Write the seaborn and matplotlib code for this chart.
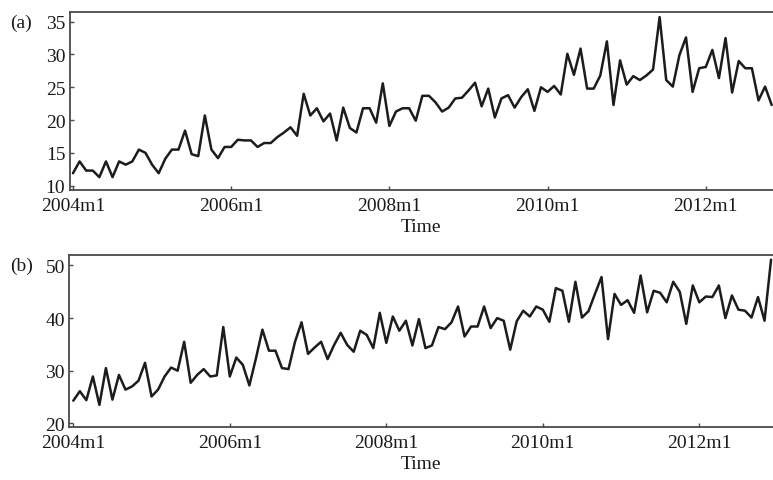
import numpy as np
import pandas as pd
import matplotlib
matplotlib.use("Agg")
import matplotlib.pyplot as plt
import seaborn as sns

# ---- data (monthly, starting 2004m1) ----
tick_months = [0, 24, 48, 72, 96]
tick_labels = ["2004m1", "2006m1", "2008m1", "2010m1", "2012m1"]
yticks_a = [10, 15, 20, 25, 30, 35]
yticks_b = [20, 30, 40, 50]

series_a = [
    11.9, 13.7, 12.3, 12.3, 11.3, 13.7, 11.3, 13.7, 13.2, 13.7, 15.5, 15.0, 13.2,
    11.9, 14.1, 15.5, 15.5, 18.4, 14.8, 14.5, 20.7, 15.5, 14.2, 15.9, 15.9, 17.0,
    16.9, 16.9, 15.9, 16.5, 16.5, 17.4, 18.1, 18.9, 17.6, 24.0, 20.7, 21.8, 19.8,
    21.0, 16.9, 21.9, 18.8, 18.1, 21.8, 21.8, 19.6, 25.6, 19.1, 21.3, 21.8, 21.8,
    19.9,
    23.7, 23.7, 22.7, 21.3, 21.9, 23.3, 23.4, 24.5, 25.7, 22.1, 24.8, 20.4, 23.3,
    23.8, 21.9, 23.5, 24.7, 21.4, 25.0, 24.3, 25.2, 23.9, 30.1, 26.9, 30.9, 24.8,
    24.8, 26.8,
    32.0, 22.3, 29.1, 25.4, 26.7, 26.1, 26.8, 27.7, 35.7, 26.1, 25.1, 29.9, 32.6,
    24.3, 27.9, 28.1, 30.7, 26.4, 32.5, 24.2, 29.0, 27.9, 27.9, 23.0, 25.1, 22.3,
]

series_b = [
    24.3, 26.1, 24.4, 28.9, 23.5, 30.5, 24.5, 29.2, 26.4, 27.0, 28.1, 31.5, 25.1,
    26.4, 28.9, 30.6, 30.0, 35.5, 27.7, 29.2, 30.3, 28.9, 29.1, 38.3, 28.9, 32.5,
    31.1, 27.2, 32.3, 37.8, 33.8, 33.8, 30.5, 30.3, 35.5, 39.2, 33.2, 34.4, 35.5,
    32.2, 34.9, 37.2, 34.9, 33.6, 37.6, 36.8, 34.3, 41.0, 35.3, 40.3, 37.6, 39.5,
    34.8, 39.8,
    34.3, 34.8, 38.3, 37.9, 39.2, 42.2, 36.5, 38.4, 38.4, 42.2, 38.1, 40.0, 39.5,
    34.0, 39.4, 41.4, 40.3, 42.2, 41.6, 39.3, 45.7, 45.2, 39.3, 46.9, 40.1, 41.3,
    44.6, 47.8,
    36.0, 44.6, 42.5, 43.4, 41.0, 48.1, 41.1, 45.2, 44.8, 43.0, 46.9, 45.0, 38.9,
    46.2, 43.0, 44.1, 44.0, 46.2, 40.0, 44.3, 41.6, 41.4, 40.1, 44.0, 39.5, 51.1,
]

df_a = pd.DataFrame({"month": np.arange(len(series_a)), "value": series_a})
df_b = pd.DataFrame({"month": np.arange(len(series_b)), "value": series_b})

sns.set_theme(style="ticks")
plt.rcParams["font.family"] = ["Liberation Serif", "DejaVu Serif"]
FS = 14
plt.rcParams["font.size"] = FS

W, H = 773, 481
fig = plt.figure(figsize=(W / 100, H / 100), dpi=100)
fig.patch.set_facecolor("white")

ax_a = fig.add_axes([69.5 / W, 1 - 191 / H, 1 - 69.5 / W, (191 - 13.3) / H])
ax_b = fig.add_axes([69 / W, 1 - 428.3 / H, 1 - 69 / W, (428.3 - 255.7) / H])

line_col = "#1c1c1c"
spine_col = "#4a4a4a"
text_col = "#1a1a1a"

panels = [
    (ax_a, df_a, yticks_a, (9.34, 36.43), (-0.53, 106.2)),
    (ax_b, df_b, yticks_b, (19.24, 52.05), (-0.66, 107.3)),
]

for ax, df, yt, ylim, xlim in panels:
    sns.lineplot(data=df, x="month", y="value", ax=ax, color=line_col,
                 linewidth=1.8)
    ax.set_xlim(*xlim)
    ax.set_ylim(*ylim)
    ax.set_xticks(tick_months)
    ax.set_xticklabels(tick_labels)
    ax.set_yticks(yt)
    ax.set_ylabel("")
    ax.set_xlabel("Time", fontsize=FS, labelpad=3, color=text_col)
    ax.tick_params(axis="both", direction="in", length=3, width=1.0,
                   color=spine_col, labelsize=FS, labelcolor=text_col)
    ax.tick_params(axis="x", pad=5)
    ax.tick_params(axis="y", pad=3)
    for s in ["left", "top", "bottom"]:
        ax.spines[s].set_color(spine_col)
        ax.spines[s].set_linewidth(1.3)
    ax.spines["right"].set_visible(False)
    ax.set_facecolor("white")
    ax.grid(False)

fig.text(10 / W, 1 - 23 / H, "(a)", fontsize=FS, ha="left", va="center",
         color=text_col)
fig.text(10 / W, 1 - 266.7 / H, "(b)", fontsize=FS, ha="left", va="center",
         color=text_col)

fig.savefig("out.png", dpi=100)
